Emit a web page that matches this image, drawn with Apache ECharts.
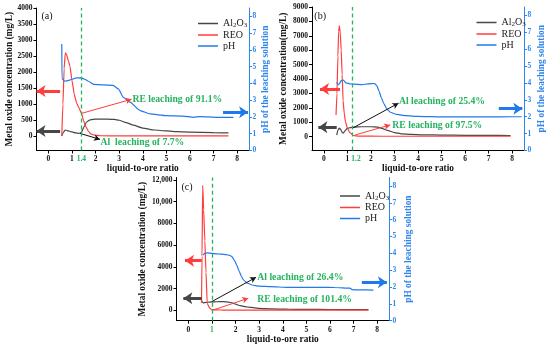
<!DOCTYPE html>
<html>
<head>
<meta charset="utf-8">
<script src="https://cdn.jsdelivr.net/npm/echarts@6/dist/echarts.min.js"></script>
<style>
html,body{margin:0;padding:0;background:#fff;}
#c{width:550px;height:347px;}
</style>
</head>
<body>
<div id="c"></div>
<script>
// ---------- data ----------
const xTicks = [0,1,2,3,4,5,6,7,8];
const pHTicks = [0,1,2,3,4,5,6,7,8];
const aLeftTicks = [0,500,1000,1500,2000,2500,3000,3500,4000];
const bLeftTicks = [0,1000,2000,3000,4000,5000,6000,7000,8000,9000];
const cLeftTicks = [0,2000,4000,6000,8000,10000,12000];
const seriesNames = ['Al2O3','REO','pH'];
const markRatio = [1.4, 1.2, 1.0];
const panelTags = ['(a)','(b)','(c)'];

// Panel (a)
const aAlX = [0.57,0.64,0.72,0.85,1.0,1.15,1.3,1.4,1.5,1.62,1.75,1.9,2.1,2.5,2.8,3.0,3.3,3.6,4.0,4.5,5.0,5.5,6.0,7.0,7.63];
const aAlY = [10,120,190,160,130,100,85,110,270,440,500,525,530,530,520,495,420,340,250,190,160,140,125,110,100];
const aReoX = [0.57,0.62,0.67,0.72,0.77,0.85,0.92,1.0,1.1,1.2,1.3,1.4,1.5,1.6,1.7,1.8,1.95,2.2,3.0,4.0,5.0,6.0,7.0,7.63];
const aReoY = [0,1000,2100,2600,2550,2350,2170,1750,1300,1030,880,720,470,280,150,70,30,10,5,5,5,5,5,5];
const aPhX = [0.57,0.58,0.71,0.9,1.2,1.4,1.55,1.7,1.91,2.33,2.75,2.97,3.18,3.46,3.89,4.31,5.0,5.7,6.14,6.43,7.14,7.84];
const aPhY = [6.35,4.27,4.13,4.2,4.33,4.33,4.25,4.13,3.95,3.92,3.88,3.67,3.17,2.88,2.38,2.18,2.08,2.05,1.98,2.02,1.98,1.98];

// Panel (b)
const bAlX = [0.55,0.6,0.66,0.72,0.78,0.83,0.9,1.0,1.1,1.3,1.6,2.0,2.3,2.5,2.7,3.0,3.3,3.7,4.2,5,6,7,7.93];
const bAlY = [100,450,600,500,300,240,400,570,620,660,690,690,660,560,430,280,200,160,130,110,95,85,80];
const bReoX = [0.52,0.56,0.6,0.63,0.66,0.7,0.74,0.78,0.82,0.87,0.92,1.0,1.1,1.25,1.5,2.5,4,6,7.93];
const bReoY = [1500,3000,5600,7300,7700,7200,6000,4300,2500,1600,1050,600,300,80,40,30,30,30,30];
const bPhX = [0.55,0.6,0.66,0.75,0.83,0.95,1.1,1.3,1.6,1.9,2.15,2.25,2.35,2.45,2.55,2.68,2.85,3.1,3.5,4.0,5.0,6.0,7.0,8.0,8.4];
const bPhY = [4.05,3.9,3.95,4.15,4.17,4.0,3.95,3.93,3.9,3.95,3.97,3.85,3.5,3.1,2.78,2.45,2.25,2.14,2.06,2.02,1.99,2.0,1.99,2.0,2.0];

// Panel (c)
const cAlX = [0.56,0.6,0.65,0.75,0.9,1.1,1.3,1.5,1.7,1.85,2.0,2.2,2.5,2.8,3.0,3.5,4.2,5,6,7.63];
const cAlY = [900,750,680,720,760,780,790,790,760,680,560,420,300,220,180,130,100,80,70,60];
const cReoX = [0.56,0.58,0.61,0.65,0.7,0.75,0.8,0.9,1.0,1.2,1.5,2,3,5,7.63];
const cReoY = [700,5000,11500,9250,6400,3500,640,200,60,30,20,20,20,20,20];
const cPhX = [0.61,0.7,0.8,1.0,1.2,1.4,1.6,1.75,1.85,1.95,2.05,2.15,2.25,2.35,2.5,2.7,3.0,3.5,4.2,5.0,5.6,6.2,6.85,6.95,7.2,7.84];
const cPhY = [3.9,4.0,4.02,4.0,3.97,3.95,3.92,3.88,3.8,3.6,3.3,2.95,2.62,2.4,2.23,2.12,2.05,2.02,1.98,1.98,1.98,1.97,1.93,1.84,1.83,1.82];

// annotation texts
const alTexts = ['Al  leaching of 7.7%','Al leaching of 25.4%','Al leaching of 26.4%'];
const reTexts = ['RE leaching of 91.1%','RE leaching of 97.5%','RE leaching of 101.4%'];

// ---------- styling / layout ----------
const FONT = "'Liberation Serif','Times New Roman',serif";
const GREEN = '#25b35f';
const C_AL = '#474747', C_RE = '#ff3d3d', C_PH = '#2079ea', C_AX = '#2f86ea';
const grids = [
  {left:36.5, top:8, width:212.5, height:142.5},
  {left:312, top:7, width:212, height:143.5},
  {left:176.5, top:177.5, width:212.5, height:143.2}
];
const leftRanges = [[-450,4000],[-960,9000],[-960,12230]];
const leftTicksAll = [aLeftTicks,bLeftTicks,cLeftTicks];
const leftNames = ['Metal oxide concentration (mg/L)','Metal oxide concentration(mg/L)','Metal oxide concentration (mg/L)'];
const leftGaps = [21,24,29];
const rightGaps = [12.5,12.7,15];
// annotation geometry in data units (x ratio, y value)
const fatRed = [[[0.5,1410],[-0.5,1410]],[[0.69,3300],[-0.16,3300]],[[0.57,4570],[-0.14,4570]]];
const fatGray = [[[0.5,160],[-0.5,160]],[[0.55,650],[-0.23,650]],[[0.57,1100],[-0.21,1100]]];
const fatBlue = [[[7.4,2.28],[8.46,2.28]],[[7.43,2.48],[8.43,2.48]],[[7.35,2.28],[8.41,2.28]]];
const thinAl = [[[1.34,85],[2.19,-103]],[[1.21,584],[3.17,2323]],[[0.99,792],[2.87,3039]]];
const thinRe = [[[1.42,712],[3.53,1150]],[[1.33,118],[2.82,814]],[[1.06,28],[2.54,1105]]];
const alTextPos = [[2.19,-215],[3.17,2434],[2.9,3039]];
const reTextPos = [[3.54,1150],[2.89,744],[2.9,949]];
const legendPos = [{left:193,top:13},{left:471.5,top:12},{left:335,top:185.5}];
const tagPos = [[41.5,16.7],[314.3,16],[181.5,187.5]];

function zip(xs, ys){ return xs.map((x,i)=>[x, ys[i]]); }
const panelData = [
  [zip(aAlX,aAlY), zip(aReoX,aReoY), zip(aPhX,aPhY)],
  [zip(bAlX,bAlY), zip(bReoX,bReoY), zip(bPhX,bPhY)],
  [zip(cAlX,cAlY), zip(cReoX,cReoY), zip(cPhX,cPhY)]
];

const tickLabel = {fontFamily:FONT, fontSize:7.5, fontWeight:'bold', color:'#111'};
const nameStyle = {fontFamily:FONT, fontSize:9.4, fontWeight:'bold', color:'#111'};

function arrowLine(pts, color, width, size){
  return [{coord:pts[0], lineStyle:{color:color, width:width, type:'solid'}, symbol:'none', symbolSize:size},
          {coord:pts[1], symbol:'arrow', symbolSize:size}];
}
function dashLine(x, range){
  return [{coord:[x, range[0]], symbol:'none', lineStyle:{color:GREEN, width:1.3, type:[4,3]}},
          {coord:[x, range[1]], symbol:'none'}];
}

const xAxes = [], yAxes = [], series = [], legends = [], graphics = [];
for (let p=0; p<3; p++){
  const xCustom = xTicks.slice();
  if (markRatio[p] !== 1) { xCustom.push(markRatio[p]); xCustom.sort((a,b)=>a-b); }
  xAxes.push({
    type:'value', gridIndex:p, min:-0.5, max:8.5,
    axisLine:{show:true, onZero:false, lineStyle:{color:'#000', width:1}},
    axisTick:{show:true, customValues:xTicks, length:3, lineStyle:{color:'#000'}},
    axisLabel:{customValues:xCustom, margin:5, ...tickLabel,
      formatter:(v)=>{
        if (Math.abs(v-markRatio[p])<1e-9) return p===1 ? '{g2|'+v+'}' : '{g|'+v+'}';
        return String(v);
      },
      rich:{g:{color:GREEN, fontFamily:FONT, fontSize:7.5, fontWeight:'bold'},
            g2:{color:GREEN, fontFamily:FONT, fontSize:7.5, fontWeight:'bold', padding:[0,0,0,8]}}
    },
    splitLine:{show:false},
    name:'liquid-to-ore ratio', nameLocation:'middle', nameGap:10.5, nameTextStyle:nameStyle
  });
  const lt = leftTicksAll[p];
  yAxes.push({
    type:'value', gridIndex:p, position:'left', min:leftRanges[p][0], max:leftRanges[p][1],
    axisLine:{show:true, onZero:false, lineStyle:{color:'#000', width:1}},
    axisTick:{show:true, customValues:lt, length:3, lineStyle:{color:'#000'}},
    axisLabel:{customValues:lt, margin:4, ...tickLabel,
      formatter:(v)=> v>=10000 ? (Math.floor(v/1000)+',000') : String(v)},
    splitLine:{show:false},
    name:leftNames[p], nameLocation:'middle', nameGap:leftGaps[p], nameTextStyle:nameStyle
  });
  yAxes.push({
    type:'value', gridIndex:p, position:'right', min:0, max:8.5,
    axisLine:{show:true, onZero:false, lineStyle:{color:C_AX, width:1}},
    axisTick:{show:true, customValues:pHTicks, length:3, lineStyle:{color:C_AX}},
    axisLabel:{customValues:pHTicks, margin:3.5, ...tickLabel, color:C_AX},
    splitLine:{show:false},
    name:'pH of the leaching solution', nameLocation:'middle', nameGap:rightGaps[p],
    nameTextStyle:{...nameStyle, color:C_AX}
  });
  const [alD, reD, phD] = panelData[p];
  const common = {type:'line', xAxisIndex:p, symbol:'none', smooth:0.15, smoothMonotone:'x', silent:true, animation:false};
  series.push({...common, name:'Al2O3', yAxisIndex:2*p, data:alD, lineStyle:{color:C_AL, width:1.2}, itemStyle:{color:C_AL},
    markLine:{silent:true, animation:false, label:{show:false},
      data:[arrowLine(fatGray[p], C_AL, 3, [9,9]), arrowLine(thinAl[p], '#111', 1, [5,6])]},
    markPoint:{silent:true, animation:false, data:[{coord:alTextPos[p], symbol:'circle', symbolSize:1, itemStyle:{color:'rgba(0,0,0,0)'},
      label:{show:true, position:'right', distance:0, formatter:alTexts[p], fontFamily:FONT, fontSize:9.7, fontWeight:'bold', color:GREEN}}]}
  });
  series.push({...common, name:'REO', yAxisIndex:2*p, data:reD, lineStyle:{color:C_RE, width:1.2}, itemStyle:{color:C_RE},
    markLine:{silent:true, animation:false, label:{show:false},
      data:[
        dashLine(markRatio[p], leftRanges[p]),
        arrowLine(fatRed[p], C_RE, 3, [9,9]), arrowLine(thinRe[p], C_RE, 1, [5,6])]},
    markPoint:{silent:true, animation:false, data:[{coord:reTextPos[p], symbol:'circle', symbolSize:1, itemStyle:{color:'rgba(0,0,0,0)'},
      label:{show:true, position:'right', distance:0, formatter:reTexts[p], fontFamily:FONT, fontSize:9.7, fontWeight:'bold', color:GREEN}}]}
  });
  series.push({...common, name:'pH', yAxisIndex:2*p+1, data:phD, lineStyle:{color:C_PH, width:1.2}, itemStyle:{color:C_PH},
    markLine:{silent:true, animation:false, label:{show:false},
      data:[arrowLine(fatBlue[p], C_PH, 3, [9,9])]}
  });
  legends.push({
    orient:'vertical', left:legendPos[p].left, top:legendPos[p].top, data:seriesNames,
    icon:'rect', itemWidth:20, itemHeight:1.5, itemGap:1, selectedMode:false,
    formatter:(n)=> n==='Al2O3' ? '{n|Al}{s|2}{n|O}{s|3}' : '{n|'+n+'}',
    textStyle:{fontFamily:FONT, fontSize:10, color:'#222',
      rich:{n:{fontFamily:FONT, fontSize:10, color:'#222', lineHeight:12},
            s:{fontFamily:FONT, fontSize:7, color:'#222', lineHeight:8, padding:[4,0,0,0]}}}
  });
  graphics.push({type:'text', x:tagPos[p][0], y:tagPos[p][1], silent:true,
    style:{text:panelTags[p], fontFamily:FONT, fontSize:10, fill:'#111', verticalAlign:'middle'}});
}

const chart = echarts.init(document.getElementById('c'), null, {renderer:'canvas'});
chart.setOption({
  animation:false,
  backgroundColor:'#fff',
  grid:grids,
  xAxis:xAxes,
  yAxis:yAxes,
  legend:legends,
  series:series,
  graphic:graphics
});
</script>
</body>
</html>
